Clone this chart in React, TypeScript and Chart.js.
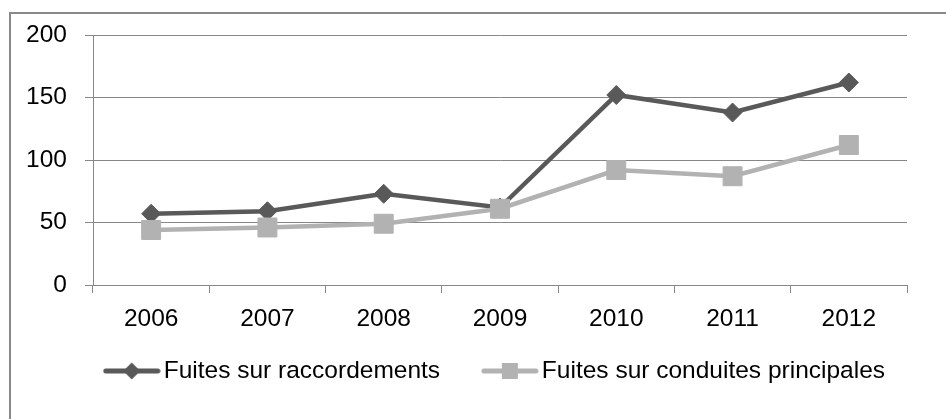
import React, { useEffect, useRef } from 'react';
import { Chart, registerables } from 'chart.js';

Chart.register(...registerables);

const categories = ['2006', '2007', '2008', '2009', '2010', '2011', '2012'];
const raccordements = [57, 59, 73, 62, 152, 138, 162];
const conduites = [44, 46, 49, 61, 92, 87, 112];
const seriesNames = ['Fuites sur raccordements', 'Fuites sur conduites principales'];
const yMin = 0;
const yMax = 200;
const yStep = 50;

const DARK = '#595959';
const LIGHT = '#b2b2b2';
const GRID = '#878787';
const FONT = "'Liberation Sans', Arial, sans-serif";
const FONT_SIZE = 24.5;

function legendIcon(color: string, shape: 'diamond' | 'square'): HTMLCanvasElement {
  const c = document.createElement('canvas');
  c.width = 58;
  c.height = 22;
  const ctx = c.getContext('2d')!;
  ctx.strokeStyle = color;
  ctx.lineWidth = 5;
  ctx.lineCap = 'round';
  ctx.beginPath();
  ctx.moveTo(3, 11);
  ctx.lineTo(55, 11);
  ctx.stroke();
  ctx.fillStyle = color;
  if (shape === 'diamond') {
    ctx.beginPath();
    ctx.moveTo(20.5, 11);
    ctx.lineTo(29, 2.5);
    ctx.lineTo(37.5, 11);
    ctx.lineTo(29, 19.5);
    ctx.closePath();
    ctx.fill();
  } else {
    ctx.fillRect(21, 3, 16, 16);
  }
  return c;
}

const framePlugin = {
  id: 'frame',
  beforeDraw(chart: any) {
    const ctx = chart.ctx;
    ctx.save();
    ctx.fillStyle = '#898989';
    ctx.fillRect(9, 12, 2, chart.height - 12);
    ctx.fillRect(9, 12, chart.width - 9, 2);
    ctx.restore();
  },
};

// moves the legend block to where the reference places it
const legendShiftPlugin = {
  id: 'legendShift',
  afterLayout(chart: any) {
    const lg = chart.legend;
    if (!lg) return;
    const dx = 40;
    const dy = -21.25;
    lg.left += dx;
    lg.right += dx;
    lg.top += dy;
    lg.bottom += dy;
  },
};

export default function App() {
  const ref = useRef<HTMLCanvasElement | null>(null);

  useEffect(() => {
    document.body.style.margin = '0';
    const canvas = ref.current;
    if (!canvas) return;
    const icons = [legendIcon(DARK, 'diamond'), legendIcon(LIGHT, 'square')];
    const chart = new Chart(canvas, {
      type: 'line',
      data: {
        labels: categories,
        datasets: [
          {
            label: seriesNames[0],
            data: raccordements,
            borderColor: DARK,
            backgroundColor: DARK,
            borderWidth: 4.5,
            pointStyle: 'rectRot',
            pointRadius: 9.5,
            pointBorderWidth: 1,
            pointBackgroundColor: DARK,
            pointBorderColor: DARK,
            tension: 0,
            order: 2,
          },
          {
            label: seriesNames[1],
            data: conduites,
            borderColor: LIGHT,
            backgroundColor: LIGHT,
            borderWidth: 4.5,
            pointStyle: 'rect',
            pointRadius: 13.4,
            pointBorderWidth: 1,
            pointBackgroundColor: LIGHT,
            pointBorderColor: LIGHT,
            tension: 0,
            order: 1,
          },
        ],
      },
      options: {
        responsive: false,
        animation: false,
        layout: { padding: { left: 10, right: 39, top: 35, bottom: 4.5 } },
        scales: {
          x: {
            type: 'category',
            offset: true,
            grid: {
              offset: true,
              drawOnChartArea: false,
              drawTicks: true,
              tickLength: 8,
              color: GRID,
              lineWidth: 1,
            },
            border: { display: true, color: GRID, width: 1 },
            ticks: {
              color: '#000',
              font: { family: FONT, size: FONT_SIZE },
              padding: 12,
              maxRotation: 0,
              autoSkip: false,
            },
            afterFit(scale: any) {
              scale.height = 45;
            },
          },
          y: {
            min: yMin,
            max: yMax,
            grid: {
              drawTicks: true,
              tickLength: 8,
              color: GRID,
              lineWidth: 1,
            },
            border: { display: true, color: GRID, width: 1 },
            ticks: {
              stepSize: yStep,
              color: '#000',
              font: { family: FONT, size: FONT_SIZE },
              padding: 18,
            },
            afterFit(scale: any) {
              scale.width = 83;
            },
          },
        },
        plugins: {
          title: { display: false },
          tooltip: { enabled: false },
          legend: {
            display: true,
            position: 'bottom',
            align: 'center',
            labels: {
              usePointStyle: true,
              pointStyleWidth: 39.5,
              padding: 50,
              color: '#000',
              font: { family: FONT, size: FONT_SIZE },
              generateLabels(ch: any) {
                return ch.data.datasets.map((ds: any, i: number) => ({
                  text: ds.label,
                  fillStyle: ds.backgroundColor,
                  strokeStyle: ds.borderColor,
                  lineWidth: 0,
                  pointStyle: icons[i],
                  hidden: !ch.isDatasetVisible(i),
                  datasetIndex: i,
                  fontColor: '#000',
                }));
              },
            },
          },
        },
      },
      plugins: [framePlugin, legendShiftPlugin],
    });
    return () => chart.destroy();
  }, []);

  return (
    <div style={{ width: 946, height: 419, position: 'relative' }}>
      <canvas ref={ref} width={946} height={419} style={{ display: 'block' }} />
    </div>
  );
}
